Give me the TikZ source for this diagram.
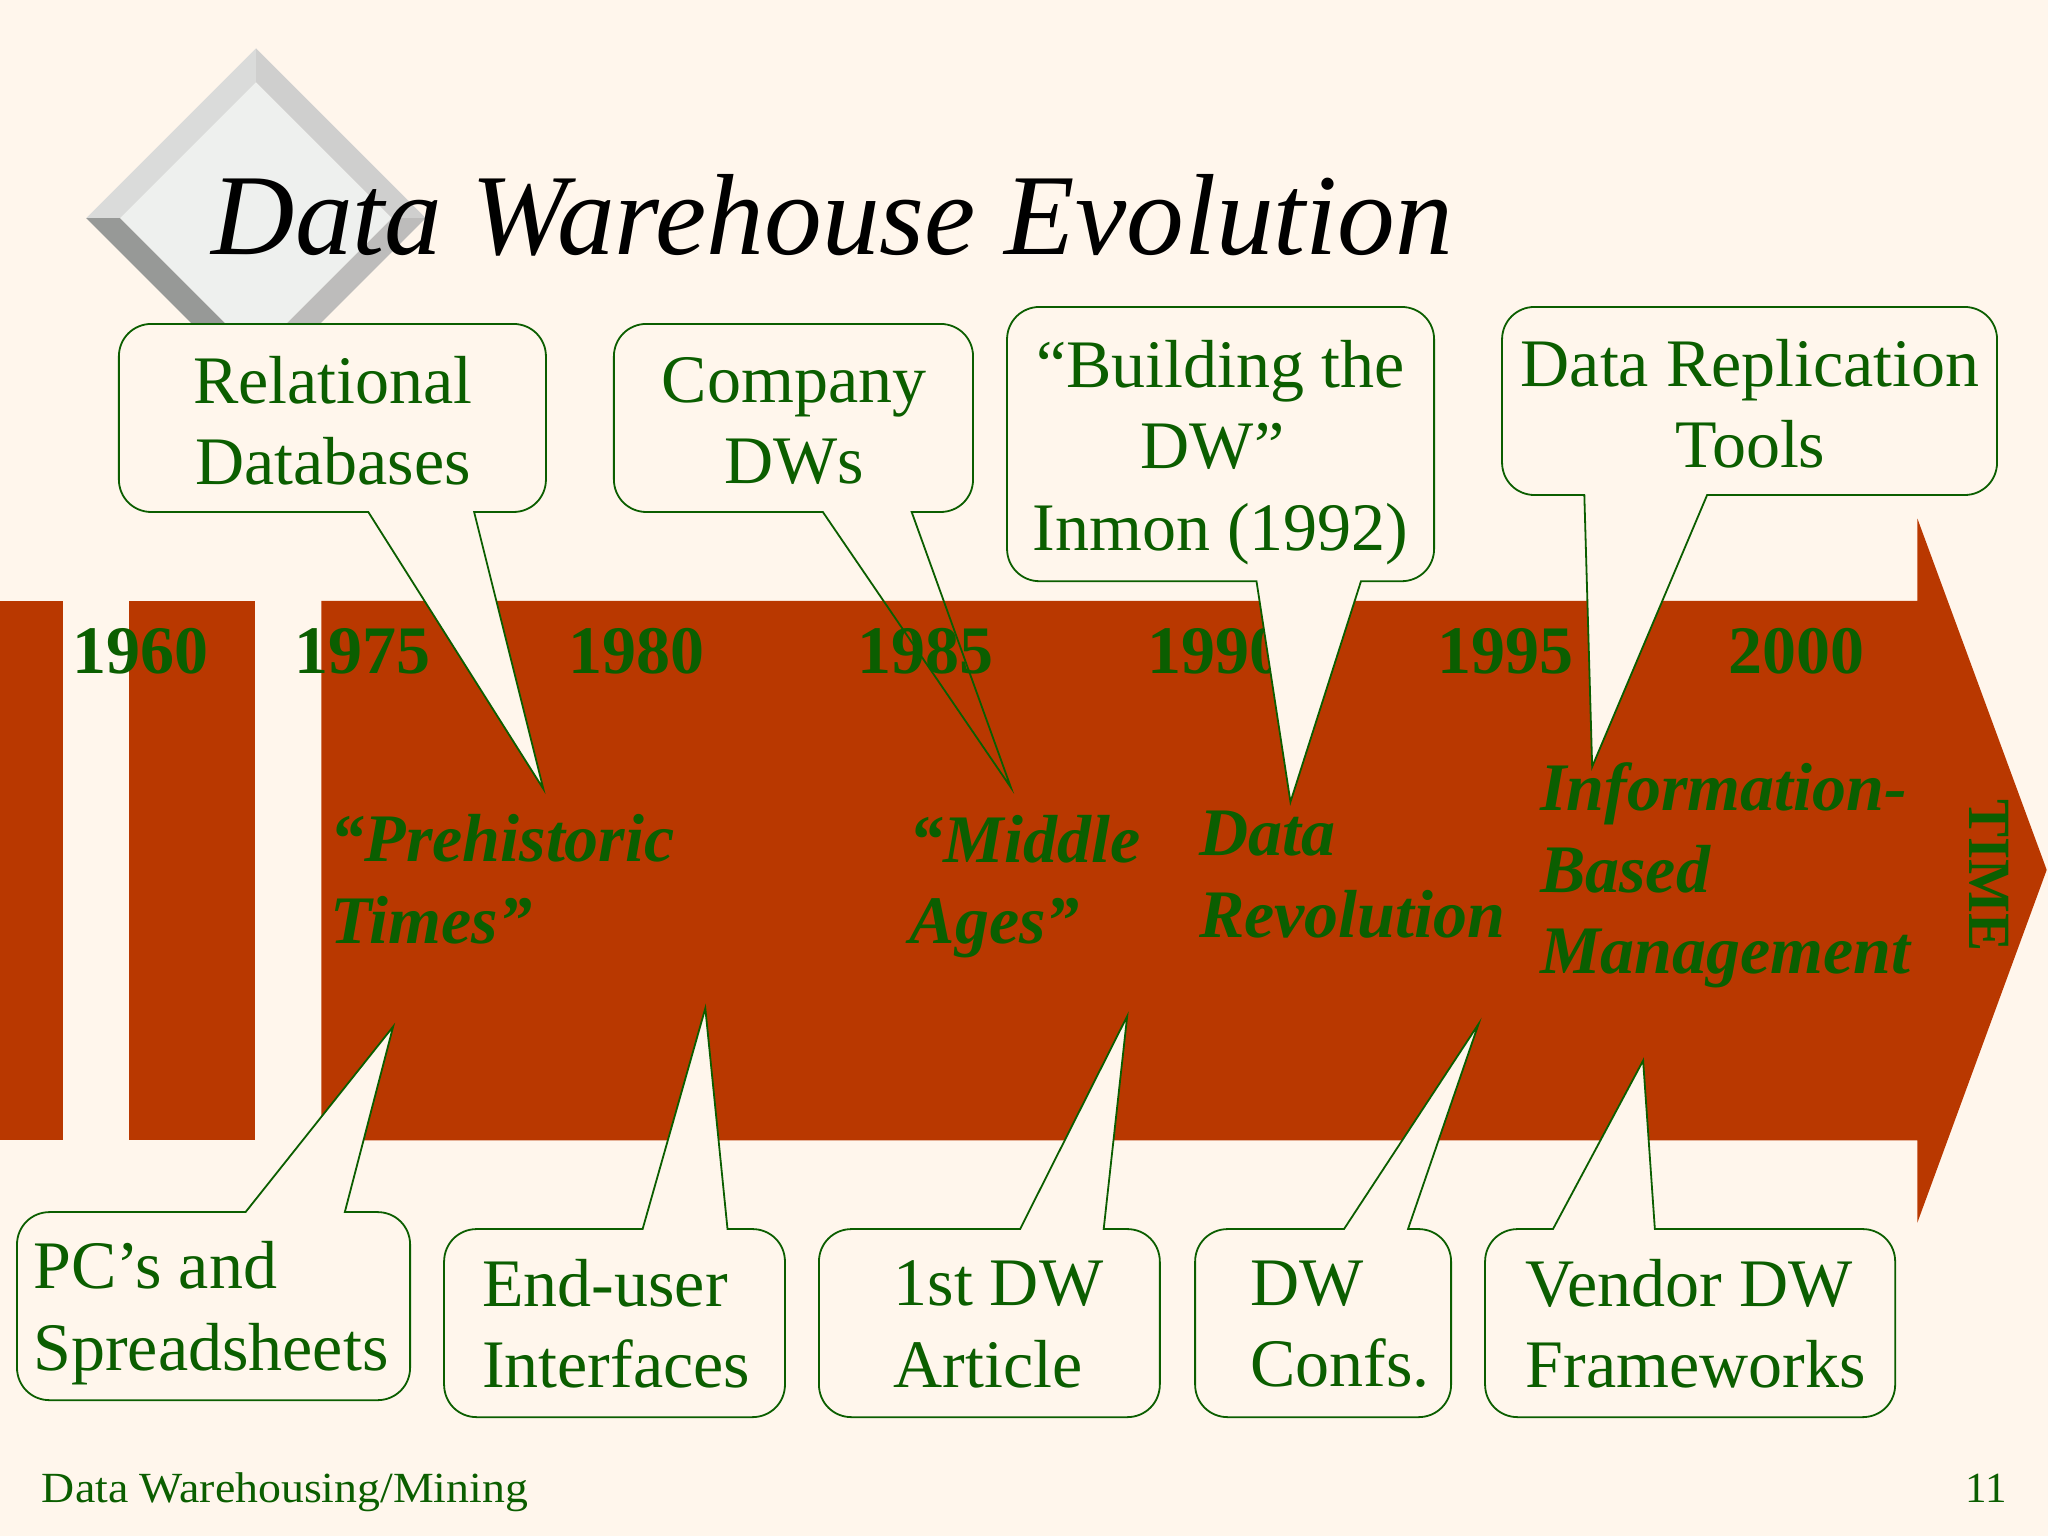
\documentclass[tikz,border=0pt]{standalone}
\usepackage{fontspec}
\usepackage{graphicx}
\setmainfont{Liberation Serif}
\definecolor{paper}{HTML}{FFF6EC}
\definecolor{rust}{HTML}{B93800}
\definecolor{leaf}{HTML}{0B5E00}
\definecolor{facetA}{HTML}{DADBDA}
\definecolor{facetB}{HTML}{CFCFCE}
\definecolor{facetC}{HTML}{979997}
\definecolor{facetD}{HTML}{BDBCBB}
\definecolor{facetE}{HTML}{EEF0EE}
\newcommand{\bodyfont}{\fontsize{68}{81.5}\selectfont}
\newcommand{\calloutdown}[9][]{% l t r b a c tipx tipy
  \draw[calloutline,#1] (#7,#5) -- ({#4-25},#5) .. controls ({#4-11},#5) and (#4,{#5-11}) .. (#4,{#5-25})
   -- (#4,{#3+25}) .. controls (#4,{#3+11}) and ({#4-11},#3) .. ({#4-25},#3)
   -- ({#2+25},#3) .. controls ({#2+11},#3) and (#2,{#3+11}) .. (#2,{#3+25})
   -- (#2,{#5-25}) .. controls (#2,{#5-11}) and ({#2+11},#5) .. ({#2+25},#5)
   -- (#6,#5) -- (#8,#9) -- cycle;}
\newcommand{\calloutup}[8]{% l t r b a c tipx tipy
  \draw[calloutline] (#5,#2) -- ({#1+25},#2) .. controls ({#1+11},#2) and (#1,{#2+11}) .. (#1,{#2+25})
   -- (#1,{#4-25}) .. controls (#1,{#4-11}) and ({#1+11},#4) .. ({#1+25},#4)
   -- ({#3-25},#4) .. controls ({#3-11},#4) and (#3,{#4-11}) .. (#3,{#4-25})
   -- (#3,{#2+25}) .. controls (#3,{#2+11}) and ({#3-11},#2) .. ({#3-25},#2)
   -- (#6,#2) -- (#7,#8) -- cycle;}
\tikzset{
  calloutline/.style={draw=leaf,fill=paper,line width=1.8pt,line join=miter},
  calloutcentre/.style={text=leaf,font=\bodyfont,align=center,inner sep=0pt},
  calloutleft/.style={text=leaf,font=\bodyfont,align=left,inner sep=0pt,anchor=west},
  yearlabel/.style={text=leaf,font=\fontsize{68}{81}\selectfont\bfseries,inner sep=0pt},
  eralabel/.style={text=leaf,font=\fontsize{68}{81.5}\selectfont\bfseries\itshape,align=left,inner sep=0pt,anchor=west},
  footer/.style={text=leaf,font=\fontsize{43}{48}\selectfont,inner sep=0pt},
}
\begin{document}
\begin{tikzpicture}[x=1.30612pt,y=-1.30612pt]
\useasboundingbox (0,0) rectangle (1568,1176);
\fill[paper] (0,0) rectangle (1568,1176);
% diamond bullet
\fill[facetA] (196,37) -- (66,167) -- (92,167) -- (196,63) -- cycle;
\fill[facetB] (196,37) -- (326,167) -- (300,167) -- (196,63) -- cycle;
\fill[facetC] (66,167) -- (196,297) -- (196,271) -- (92,167) -- cycle;
\fill[facetD] (326,167) -- (196,297) -- (196,271) -- (300,167) -- cycle;
\fill[facetE] (196,63) -- (300,167) -- (196,271) -- (92,167) -- cycle;
% title
\node[anchor=base west,inner sep=0pt,font=\fontsize{115.4}{130}\selectfont\itshape,text=black] (title) at (162,195) {Data Warehouse Evolution};
% band
\fill[rust] (0,460) rectangle (48,873);
\fill[rust] (99,460) rectangle (195,873);
\fill[rust] (246,460) -- (1468,460) -- (1468,397) -- (1567,666) -- (1468,936) -- (1468,873) -- (246,873) -- cycle;
% years
\node[yearlabel] (y60) at (107.5,498.5) {1960};
\node[yearlabel] (y75) at (277.5,498.5) {1975};
\node[yearlabel] (y80) at (487,498.5) {1980};
\node[yearlabel] (y85) at (708.5,498.5) {1985};
\node[yearlabel] (y90) at (930.5,498.5) {1990};
\node[yearlabel] (y95) at (1153,498.5) {1995};
\node[yearlabel] (y00) at (1375.5,498.5) {2000};
% callouts
\calloutdown{91}{248}{418}{392}{282}{363}{416}{604}
\calloutdown[fill=none]{470}{248}{745}{392}{630}{698}{774}{603}
\calloutdown{771}{235}{1098}{445}{962}{1042}{988}{614}
\calloutdown{1150}{235}{1529}{379}{1213}{1307}{1219}{587}
\calloutup{13}{928}{314}{1072}{188}{264}{301}{786}
\calloutup{340}{941}{601}{1085}{492}{557}{540}{772}
\calloutup{627}{941}{888}{1085}{781}{845}{863}{778}
\calloutup{915}{941}{1111}{1085}{1029}{1078}{1132}{784}
\calloutup{1137}{941}{1451}{1085}{1189}{1267}{1258}{812}
\node[calloutcentre] (relational) at (255,322) {Relational\\Databases};
\node[calloutcentre] (company) at (608,322.5) {Company\\DWs};
\node[calloutcentre] (building) at (934.5,346.5) {“Building the\\\mbox{DW”\hspace{16pt}}\\Inmon (1992)};
\node[calloutcentre] (replication) at (1340,309) {Data Replication\\Tools};
\node[calloutleft] (pcs) at (25.5,1005.5) {PC’s and\\Spreadsheets};
\node[calloutleft] (enduser) at (369,1013.5) {End-user\\Interfaces};
\node[calloutleft] (firstdw) at (684,1014) {1st DW\\Article};
\node[calloutleft] (confs) at (957,1014) {DW\\Confs.};
\node[calloutleft] (vendor) at (1168,1013.5) {Vendor DW\\Frameworks};
% eras
\node[eralabel] (prehistoric) at (253,673) {“Prehistoric\\Times”};
\node[eralabel] (middle) at (696.5,679) {“Middle\\Ages”};
\node[eralabel] (revolution) at (918,669.5) {Data\\Revolution};
\node[eralabel] (information) at (1179,670.5) {Information-\\Based\\Management};
\node[text=leaf,font=\fontsize{60}{62}\selectfont\bfseries,inner sep=0pt,rotate=-90] (time) at (1523,670.5) {\scalebox{0.95}[1]{TIME}};
% footer
\node[footer,anchor=base west] (foot) at (32,1150) {\scalebox{1.065}[1]{Data Warehousing/Mining}};
\node[footer,anchor=base east] (page) at (1536.5,1150) {11};
\end{tikzpicture}
\end{document}
